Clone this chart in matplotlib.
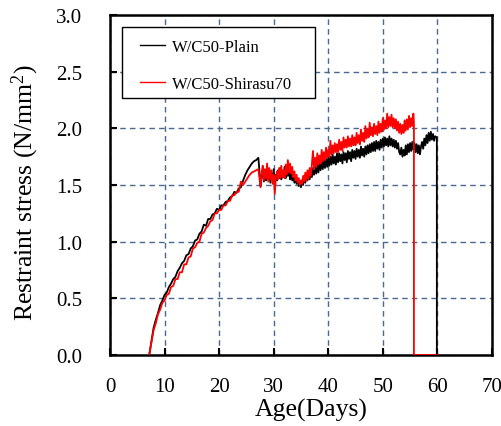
import numpy as np
import matplotlib
matplotlib.use("Agg")
import matplotlib.pyplot as plt
from matplotlib.patches import Rectangle

plt.rcParams.update({
    'font.family': 'Liberation Serif',
    'mathtext.fontset': 'custom',
    'mathtext.rm': 'Liberation Serif',
    'mathtext.it': 'Liberation Serif:italic',
})

# early readings every 0.4 day, drying period logged every 0.2 day
EARLY_STEP = 0.4
EARLY_START = 7.2
DRY_STEP = 0.2
DRY_START = 27.6

# W/C50-Plain: hardening rise + sealed arc, then drying period
plain_early = [0.00, 0.12, 0.24, 0.31, 0.37, 0.44, 0.48, 0.53, 0.55, 0.60,
               0.63, 0.67, 0.69, 0.74, 0.77, 0.81, 0.83, 0.88, 0.89, 0.94,
               0.96, 1.01, 1.02, 1.07, 1.09, 1.15, 1.14, 1.20, 1.20, 1.24,
               1.25, 1.29, 1.28, 1.32, 1.32, 1.35, 1.36, 1.39, 1.40, 1.44,
               1.43, 1.47, 1.48,
               1.54, 1.59, 1.63, 1.66, 1.69, 1.71, 1.72, 1.74]
plain_dry = [1.49, 1.59, 1.63, 1.53, 1.61, 1.54, 1.65, 1.55,
             1.62, 1.52, 1.60, 1.55, 1.64, 1.53, 1.59, 1.54, 1.63, 1.56,
             1.65, 1.55, 1.61, 1.57, 1.66, 1.56, 1.62, 1.58, 1.65, 1.55,
             1.61, 1.54, 1.59, 1.52, 1.57, 1.51, 1.56, 1.49, 1.54, 1.48,
             1.54, 1.50, 1.58, 1.52, 1.60, 1.54, 1.62, 1.55, 1.63, 1.57,
             1.65, 1.59, 1.67, 1.60, 1.69, 1.61, 1.69, 1.63, 1.71, 1.64,
             1.72, 1.65, 1.73, 1.66, 1.74, 1.67, 1.75, 1.68, 1.77, 1.69,
             1.75, 1.68, 1.78, 1.70, 1.78, 1.71, 1.77, 1.69, 1.79, 1.72,
             1.78, 1.70, 1.80, 1.73, 1.79, 1.71, 1.81, 1.74, 1.80, 1.73,
             1.82, 1.75, 1.81, 1.74, 1.84, 1.76, 1.82, 1.75, 1.84, 1.77,
             1.85, 1.78, 1.86, 1.79, 1.87, 1.80, 1.88, 1.80, 1.89, 1.82,
             1.88, 1.81, 1.90, 1.83, 1.91, 1.84, 1.92, 1.85, 1.91, 1.84,
             1.93, 1.85, 1.91, 1.84, 1.90, 1.83, 1.89, 1.82, 1.87, 1.79,
             1.77, 1.83, 1.75, 1.81, 1.76, 1.85, 1.77, 1.86, 1.79, 1.87,
             1.80, 1.88, 1.81, 1.87, 1.79, 1.86, 1.78, 1.85, 1.77, 1.84,
             1.88, 1.82, 1.91, 1.85, 1.94, 1.87, 1.96, 1.89, 1.97, 1.90,
             1.95, 1.89, 1.93]
plain_end_days = [59.9, 59.9]
plain_end_vals = [1.92, 0.00]

# W/C50-Shirasu70
shirasu_early = [0.00, 0.11, 0.22, 0.28, 0.36, 0.40, 0.46, 0.48, 0.53, 0.54,
                 0.60, 0.61, 0.67, 0.67, 0.73, 0.73, 0.80, 0.80, 0.86, 0.87,
                 0.94, 0.95, 0.99, 1.00, 1.07, 1.08, 1.12, 1.14, 1.18, 1.19,
                 1.25, 1.25, 1.28, 1.28, 1.32, 1.32, 1.36, 1.36, 1.41, 1.41,
                 1.44, 1.44, 1.53,
                 1.50, 1.53, 1.56, 1.59, 1.61, 1.62, 1.63, 1.64]
shirasu_dry = [1.48, 1.61, 1.67, 1.54, 1.64, 1.56, 1.69, 1.53,
               1.65, 1.55, 1.63, 1.51, 1.59, 1.42, 1.56, 1.62, 1.55, 1.65,
               1.56, 1.67, 1.57, 1.63, 1.56, 1.68, 1.59, 1.72, 1.61, 1.69,
               1.60, 1.66, 1.57, 1.62, 1.54, 1.59, 1.52, 1.56, 1.50, 1.54,
               1.51, 1.58, 1.53, 1.61, 1.54, 1.63, 1.56, 1.65, 1.58, 1.68,
               1.80, 1.64, 1.74, 1.66, 1.78, 1.68, 1.76, 1.69, 1.81, 1.71,
               1.79, 1.72, 1.83, 1.74, 1.81, 1.75, 1.89, 1.77, 1.85, 1.78,
               1.87, 1.79, 1.86, 1.79, 1.90, 1.81, 1.88, 1.80, 1.92, 1.83,
               1.90, 1.83, 1.93, 1.84, 1.91, 1.84, 1.94, 1.85, 1.92, 1.85,
               1.96, 1.87, 1.94, 1.86, 1.99, 1.89, 1.96, 1.88, 2.02, 1.91,
               1.99, 1.92, 2.05, 1.94, 2.01, 1.93, 2.04, 1.95, 2.02, 1.94,
               2.06, 1.96, 2.04, 1.97, 2.09, 1.99, 2.07, 2.00, 2.13, 2.01,
               2.10, 2.02, 2.12, 2.01, 2.09, 2.00, 2.08, 1.98, 2.06, 1.96,
               2.04, 1.95, 2.03, 1.96, 2.07, 1.98, 2.08, 1.99, 2.11, 2.01,
               2.09, 2.02, 2.13]
shirasu_end_days = [55.7, 55.7, 59.9]
shirasu_end_vals = [2.05, 0.00, 0.00]


def series_days(early, dry, end_days):
    d_early = np.round(EARLY_START + EARLY_STEP * np.arange(len(early)), 1)
    d_dry = np.round(DRY_START + DRY_STEP * np.arange(len(dry)), 1)
    return np.concatenate([d_early, d_dry, end_days])


plain_days = series_days(plain_early, plain_dry, plain_end_days)
plain_vals = np.array(plain_early + plain_dry + plain_end_vals)
shirasu_days = series_days(shirasu_early, shirasu_dry, shirasu_end_days)
shirasu_vals = np.array(shirasu_early + shirasu_dry + shirasu_end_vals)

fig = plt.figure(figsize=(5.02, 4.27), dpi=100)
ax = fig.add_axes([0.219, 0.1663, 0.761, 0.7962])

ax.plot(plain_days, plain_vals, color='black', lw=1.3, label='W/C50-Plain', zorder=3)
ax.plot(shirasu_days, shirasu_vals, color='#ff0000', lw=1.3, label='W/C50-Shirasu70', zorder=4)

ax.set_xlim(0, 70)
ax.set_ylim(0, 3.0)
yt = np.arange(0, 3.01, 0.5)
ax.set_xticks(np.arange(0, 71, 10))
ax.set_yticks(yt)
ax.set_yticklabels([f'{v:.1f}' for v in yt])

ax.grid(True, color='#4a6890', lw=1.0, ls=(0, (4, 3)))
ax.set_axisbelow(True)

for s in ax.spines.values():
    s.set_linewidth(1.8)

ax.tick_params(axis='both', direction='in', length=5, width=1.5, labelsize=15)
ax.tick_params(axis='y', pad=20)
ax.tick_params(axis='x', pad=16)

ax.set_xlabel('Age(Days)', fontsize=18.5, labelpad=1)
ax.set_ylabel('Restraint stress (N/mm$^2$)', fontsize=18.5, labelpad=11)
ax.xaxis.label.set_x(0.526)
ax.yaxis.label.set_y(0.479)

# legend entries without frame; box drawn separately with a wider left margin
leg = ax.legend(loc='upper left', bbox_to_anchor=(0.0785, 0.93), fontsize=12,
                frameon=False, handlelength=1.5, handletextpad=0.4,
                labelspacing=1.26, borderpad=0, borderaxespad=0)
for h in leg.get_lines():
    h.set_linewidth(1.0)
ax.add_patch(Rectangle((0.0314, 0.756), 0.505, 0.209, transform=ax.transAxes,
                       facecolor='white', edgecolor='black', lw=1.0, zorder=5))
leg.set_zorder(6)

fig.savefig('out.png', dpi=100)
